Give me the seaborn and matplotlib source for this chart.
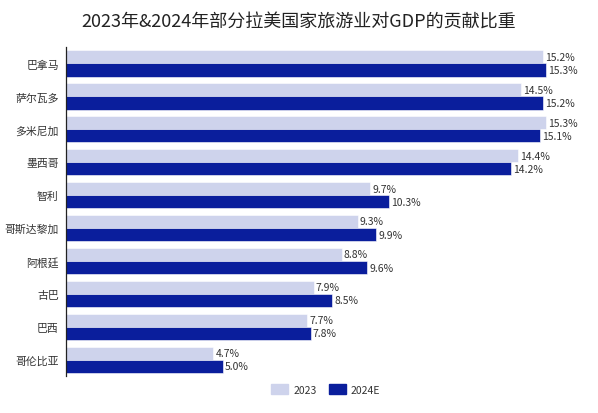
import matplotlib
matplotlib.use("Agg")
import matplotlib.pyplot as plt
import seaborn as sns
import pandas as pd

# data
countries = ["巴拿马", "萨尔瓦多", "多米尼加", "墨西哥", "智利",
             "哥斯达黎加", "阿根廷", "古巴", "巴西", "哥伦比亚"]
share_2023 = [15.2, 14.5, 15.3, 14.4, 9.7, 9.3, 8.8, 7.9, 7.7, 4.7]
share_2024 = [15.3, 15.2, 15.1, 14.2, 10.3, 9.9, 9.6, 8.5, 7.8, 5.0]
series = ["2023", "2024E"]

df = pd.DataFrame({
    "country": countries * 2,
    "share": share_2023 + share_2024,
    "year": [series[0]] * len(countries) + [series[1]] * len(countries),
})

sns.set_style("white")
plt.rcParams["font.family"] = ["Noto Sans CJK SC", "DejaVu Sans"]

fig = plt.figure(figsize=(5.98, 4.14), dpi=100)
ax = fig.add_axes([0.110, 0.089, 0.850, 0.795])

palette = {"2023": "#CED3EC", "2024E": "#0A1E9C"}
sns.barplot(data=df, y="country", x="share", hue="year", order=countries,
            hue_order=series, palette=palette, orient="h", width=0.8,
            saturation=1, edgecolor="white", linewidth=0.4, ax=ax, legend=False)

for cont in ax.containers:
    ax.bar_label(cont, fmt="%.1f%%", padding=1.5, fontsize=7.5, color="#333333")

ax.set_xlim(0, 16.2)
ax.set_xlabel("")
ax.set_ylabel("")
ax.set_xticks([])
ax.tick_params(axis="y", length=0, labelsize=7.8, labelcolor="#333333", pad=5)
for s in ["top", "right", "bottom"]:
    ax.spines[s].set_visible(False)
ax.spines["left"].set_color("#222222")
ax.spines["left"].set_linewidth(0.9)

fig.text(0.5, 0.945, "2023年&2024年部分拉美国家旅游业对GDP的贡献比重",
         ha="center", va="center", fontsize=13, color="#222222")

handles = [plt.Rectangle((0, 0), 1, 1, color=palette[s]) for s in series]
fig.legend(handles, series, loc="center", bbox_to_anchor=(0.545, 0.057), ncol=2,
           frameon=False, fontsize=7.5, handlelength=1.6, handleheight=1.1,
           columnspacing=1.2, handletextpad=0.5, labelcolor="#333333")

fig.savefig("out.png", dpi=100)
